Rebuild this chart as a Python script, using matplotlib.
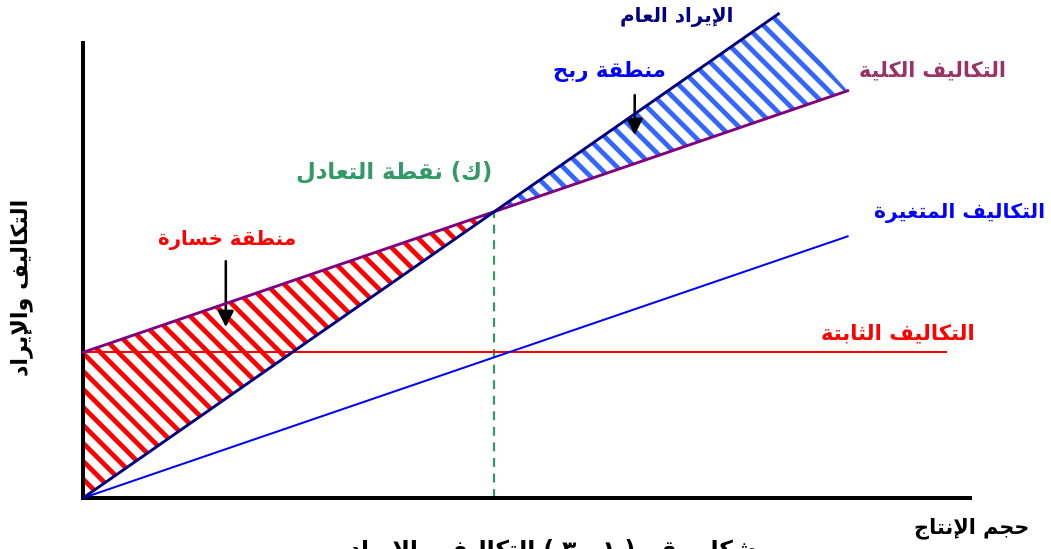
import matplotlib
matplotlib.use('Agg')
import matplotlib.pyplot as plt

# ---- data (production units 0..100, cost units 0..100) ----
units_cost = [0, 86.2]
fixed_cost = 32.0
fixed_end = 97.3
variable_cost = [0, 57.5]
total_cost = [32.0, 89.5]
units_rev = [0, 78.4]
revenue = [0, 106.4]

labels = {
    'revenue': 'الإيراد العام',
    'total': 'التكاليف الكلية',
    'profit': 'منطقة ربح',
    'breakeven': '(ك) نقطة التعادل',
    'variable': 'التكاليف المتغيرة',
    'loss': 'منطقة خسارة',
    'fixed': 'التكاليف الثابتة',
    'ylabel': 'التكاليف والإيراد',
    'xlabel': 'حجم الإنتاج',
    'caption': 'شكل رقم ( ١ - ٣ ) التكاليف والإيراد',
}

# ---- simple arabic shaping (presentation forms + rtl order) ----
DUAL = {'ب': 0xFE8F, 'ت': 0xFE95, 'ث': 0xFE99, 'ج': 0xFE9D, 'ح': 0xFEA1,
        'خ': 0xFEA5, 'س': 0xFEB1, 'ش': 0xFEB5, 'ط': 0xFEC1, 'ع': 0xFEC9,
        'غ': 0xFECD, 'ف': 0xFED1, 'ق': 0xFED5, 'ك': 0xFED9, 'ل': 0xFEDD,
        'م': 0xFEE1, 'ن': 0xFEE5, 'ه': 0xFEE9, 'ي': 0xFEF1}
RIGHT = {'ا': 0xFE8D, 'إ': 0xFE87, 'أ': 0xFE83, 'آ': 0xFE81, 'ة': 0xFE93,
         'د': 0xFEA9, 'ذ': 0xFEAB, 'ر': 0xFEAD, 'ز': 0xFEAF, 'و': 0xFEED}
LAM_ALEF = {'ا': 0xFEFB, 'إ': 0xFEF9, 'أ': 0xFEF7, 'آ': 0xFEF5}
MIRROR = {'(': ')', ')': '('}


def ar(text):
    tokens = []
    i = 0
    while i < len(text):
        c = text[i]
        if c == 'ل' and i + 1 < len(text) and text[i + 1] in LAM_ALEF:
            tokens.append(('R', LAM_ALEF[text[i + 1]]))
            i += 2
            continue
        if c in DUAL:
            tokens.append(('D', DUAL[c]))
        elif c in RIGHT:
            tokens.append(('R', RIGHT[c]))
        else:
            tokens.append(('N', c))
        i += 1
    out = []
    for k, (kind, val) in enumerate(tokens):
        if kind == 'N':
            out.append(MIRROR.get(val, val))
            continue
        prev = k > 0 and tokens[k - 1][0] == 'D'
        nxt = kind == 'D' and k + 1 < len(tokens) and tokens[k + 1][0] in 'DR'
        if prev:
            off = 3 if nxt else 1
        else:
            off = 2 if nxt else 0
        out.append(chr(val + off))
    return ''.join(reversed(out))


W, H, DPI = 1051, 549, 108
K = 80 / DPI  # sizes below were tuned at 80 dpi

plt.rcParams['font.family'] = ['DejaVu Sans']
plt.rcParams['hatch.linewidth'] = 4.3 * K

fig = plt.figure(figsize=(W / DPI, H / DPI), dpi=DPI)
ax = fig.add_axes([83 / W, 51 / H, 887 / W, 455 / H])
ax.set_xlim(0, 100)
ax.set_ylim(0, 100)
ax.set_xticks([])
ax.set_yticks([])
for s in ['top', 'right']:
    ax.spines[s].set_visible(False)
for s in ['left', 'bottom']:
    ax.spines[s].set_linewidth(3.6 * K)
    ax.spines[s].set_color('black')

# break-even point
rev_slope = (revenue[1] - revenue[0]) / (units_rev[1] - units_rev[0])
tc_slope = (total_cost[1] - total_cost[0]) / (units_cost[1] - units_cost[0])
be_x = total_cost[0] / (rev_slope - tc_slope)
be_y = rev_slope * be_x

# loss area
ax.fill_between([0, be_x], [revenue[0], be_y], [total_cost[0], be_y],
                facecolor='white', edgecolor='#ff0000', hatch='\\\\', linewidth=0, zorder=1)
# profit area
ax.fill([be_x, units_rev[1], units_cost[1]], [be_y, revenue[1], total_cost[1]],
        facecolor='white', edgecolor='#3366ff', hatch='\\\\', linewidth=0, zorder=1,
        clip_on=False)

ax.plot([be_x, be_x], [0, be_y], color='#339966', lw=2 * K, ls=(0, (4, 3)), zorder=2)
ax.plot([0, fixed_end], [fixed_cost, fixed_cost], color='#ff0000', lw=1.8 * K, zorder=3)
ax.plot(units_cost, variable_cost, color='#0000ff', lw=1.8 * K, zorder=3)
ax.plot(units_cost, total_cost, color='#800080', lw=2.6 * K, zorder=4, clip_on=False)
ax.plot(units_rev, revenue, color='#000080', lw=2.6 * K, zorder=5, clip_on=False)

# arrows
arrow = dict(arrowstyle='-|>', color='black', lw=2.3 * K, mutation_scale=30 * K)
ax.annotate('', xy=(16.1, 36.9), xytext=(16.1, 52.7), arrowprops=arrow)
ax.annotate('', xy=(62.2, 79.1), xytext=(62.2, 89.2), arrowprops=arrow)


def ftext(px, py, key, color, size, **kw):
    fig.text(px / W, 1 - py / H, ar(labels[key]), color=color, fontsize=size * K,
             fontweight='bold', ha='center', va='center', **kw)


ftext(677, 17, 'revenue', '#000080', 18)
ftext(932, 70, 'total', '#993366', 18.5)
ftext(609, 72, 'profit', '#0000ff', 19)
ftext(394, 172, 'breakeven', '#339966', 20.5)
ftext(960, 213, 'variable', '#0000ff', 18.2)
ftext(227, 240, 'loss', '#ff0000', 17.8)
ftext(898, 333, 'fixed', '#ff0000', 19)
ftext(22, 287, 'ylabel', 'black', 20, rotation=90)
ftext(972, 528, 'xlabel', 'black', 18.7)
fig.text(552 / W, 1 - 539 / H, ar(labels['caption']), color='black', fontsize=21 * K,
         fontweight='bold', ha='center', va='top')

fig.savefig('out.png', dpi=DPI)
